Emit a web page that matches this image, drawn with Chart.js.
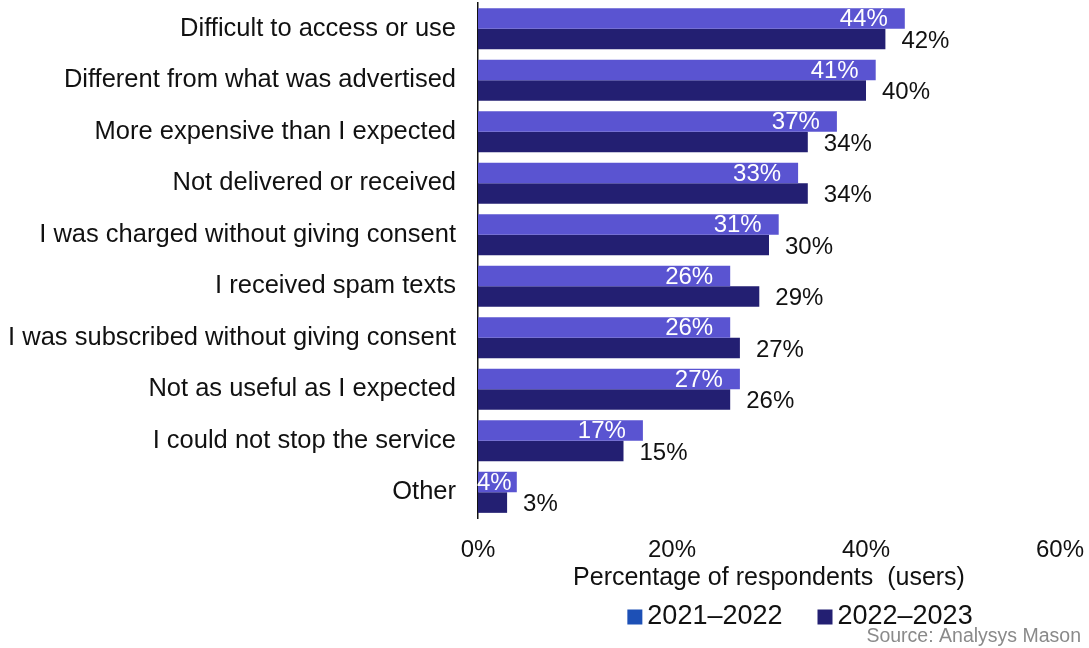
<!DOCTYPE html>
<html>
<head>
<meta charset="utf-8">
<script src="https://cdn.jsdelivr.net/npm/chart.js@4.4.1/dist/chart.umd.min.js"></script>
<style>
  html, body { margin: 0; padding: 0; background: #ffffff; }
  #wrap { width: 1089px; height: 648px; position: relative; }
</style>
</head>
<body>
<div id="wrap"><canvas id="chart"></canvas></div>
<script>
// Reasons reported, top to bottom
const categories = [
  "Difficult to access or use",
  "Different from what was advertised",
  "More expensive than I expected",
  "Not delivered or received",
  "I was charged without giving consent",
  "I received spam texts",
  "I was subscribed without giving consent",
  "Not as useful as I expected",
  "I could not stop the service",
  "Other"
];
const seriesNames = ["2021\u20132022", "2022\u20132023"];
const values2021 = [44, 41, 37, 33, 31, 26, 26, 27, 17, 4];
const values2022 = [42, 40, 34, 34, 30, 29, 27, 26, 15, 3];
const xTicks = [0, 20, 40, 60];
const sourceNote = "Source: Analysys Mason";

const FONT = "'Liberation Sans', Arial, sans-serif";
const INK = "#111111";
const barLight = "#5a54d1";
const barDark = "#231f72";
const legendSwatches = ["#1d50b6", barDark];

// Writes each bar's value: white inside the end for the first series, black past the end for the second
const valueLabels = {
  id: "valueLabels",
  afterDatasetsDraw(chart) {
    const ctx = chart.ctx;
    ctx.save();
    ctx.font = "24px " + FONT;
    ctx.textBaseline = "middle";
    ctx.textAlign = "left";
    chart.data.datasets.forEach((ds, di) => {
      const meta = chart.getDatasetMeta(di);
      meta.data.forEach((bar, i) => {
        const txt = ds.data[i] + "%";
        const w = ctx.measureText(txt).width;
        if (di === 0) {
          ctx.fillStyle = "#ffffff";
          const start = Math.max(bar.x - 17 - w, bar.base - 1);
          ctx.fillText(txt, start, bar.y + 1);
        } else {
          ctx.fillStyle = INK;
          ctx.fillText(txt, bar.x + 16, bar.y + 2);
        }
      });
    });
    ctx.restore();
  }
};

// Legend row and source note under the axis title
const footer = {
  id: "footer",
  afterDraw(chart) {
    const ctx = chart.ctx;
    const area = chart.chartArea;
    ctx.save();
    ctx.font = "27px " + FONT;
    ctx.textBaseline = "middle";
    ctx.textAlign = "left";
    const box = 15, gap = 5, itemGap = 35;
    const widths = chart.data.datasets.map(ds => ctx.measureText(ds.label).width);
    const total = widths.reduce((a, w) => a + box + gap + w, 0) + itemGap * (widths.length - 1);
    const centerX = (area.left + area.right) / 2 + 31;
    const y = area.bottom + 99;
    let x = centerX - total / 2;
    chart.data.datasets.forEach((ds, i) => {
      ctx.fillStyle = legendSwatches[i];
      ctx.fillRect(x, y - box / 2, box, box);
      x += box + gap;
      ctx.fillStyle = INK;
      ctx.fillText(ds.label, x, y);
      x += widths[i] + itemGap;
    });
    ctx.font = "19.5px " + FONT;
    ctx.fillStyle = "#8a8a8a";
    ctx.textAlign = "right";
    ctx.fillText(sourceNote, chart.width - 8, area.bottom + 119);
    ctx.restore();
  }
};

new Chart(document.getElementById("chart"), {
  type: "bar",
  data: {
    labels: categories,
    datasets: [
      { label: seriesNames[0], data: values2021, backgroundColor: barLight },
      { label: seriesNames[1], data: values2022, backgroundColor: barDark }
    ]
  },
  options: {
    indexAxis: "y",
    responsive: true,
    maintainAspectRatio: false,
    animation: false,
    datasets: { bar: { categoryPercentage: 0.8, barPercentage: 1.0 } },
    layout: { padding: { top: 3, right: 1, left: 4, bottom: 55 } },
    scales: {
      x: {
        min: 0, max: 60,
        afterBuildTicks(axis) { axis.ticks = xTicks.map(v => ({ value: v })); },
        afterFit(scale) { scale.paddingLeft = 0; scale.paddingRight = 29; scale.height = 75; },
        grid: { display: false, drawTicks: false },
        border: { display: false },
        ticks: {
          color: INK,
          font: { family: FONT, size: 24 },
          padding: 18,
          maxRotation: 0,
          callback: v => v + "%"
        },
        title: {
          display: true,
          text: "Percentage of respondents  (users)",
          color: INK,
          font: { family: FONT, size: 25 },
          padding: { top: 0, bottom: 0 }
        }
      },
      y: {
        afterFit(scale) { scale.width = 474; scale.paddingTop = 0; scale.paddingBottom = 0; },
        grid: { display: false, drawTicks: false },
        border: { display: true, color: INK, width: 1.5 },
        ticks: {
          color: INK,
          font: { family: FONT, size: 25.5 },
          padding: 22
        }
      }
    },
    plugins: {
      tooltip: { enabled: false },
      legend: { display: false }
    }
  },
  plugins: [valueLabels, footer]
});
</script>
</body>
</html>
